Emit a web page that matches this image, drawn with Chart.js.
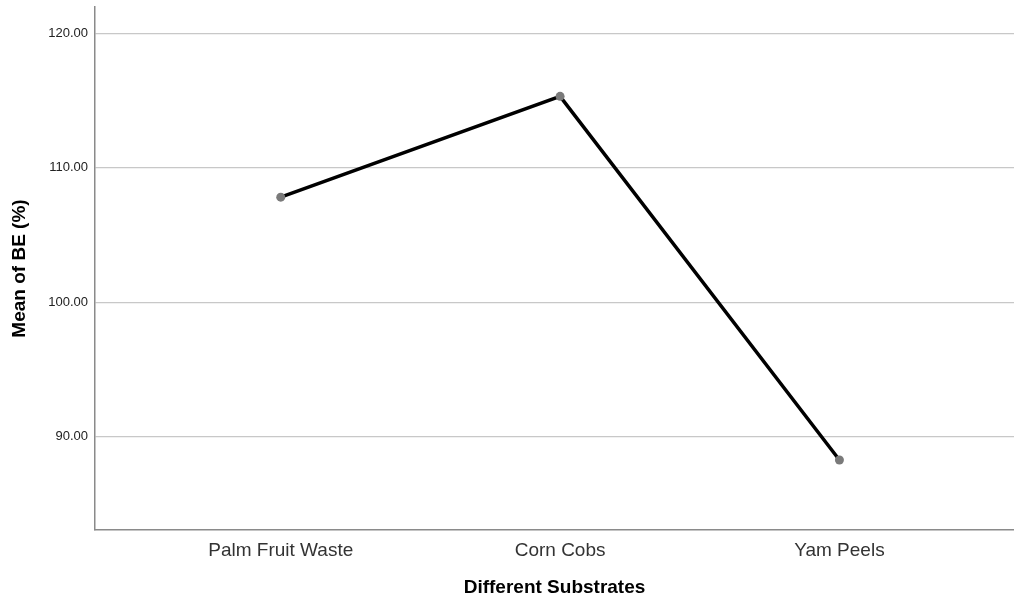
<!DOCTYPE html>
<html>
<head>
<meta charset="utf-8">
<script src="https://cdn.jsdelivr.net/npm/chart.js@4.4.1/dist/chart.umd.min.js"></script>
<style>
html,body{margin:0;padding:0;background:#fff;}
#wrap{width:1014px;height:601px;}
</style>
</head>
<body>
<div id="wrap"><canvas id="c" width="1014" height="601"></canvas></div>
<script>
const categories = ["Palm Fruit Waste", "Corn Cobs", "Yam Peels"];
const meanBE = [107.82, 115.32, 88.26];
const yTicks = [90, 100, 110, 120];
const xTitle = "Different Substrates";
const yTitle = "Mean of BE (%)";

const points = categories.map((c, i) => ({ x: i + 1, y: meanBE[i] }));

function zeroPad(s) { s.paddingTop = 0; s.paddingBottom = 0; s.paddingLeft = 0; s.paddingRight = 0; }

new Chart(document.getElementById('c'), {
  type: 'line',
  data: {
    datasets: [{
      data: points,
      borderColor: '#000000',
      borderWidth: 3.5,
      pointRadius: 4.5,
      pointHoverRadius: 4.5,
      pointBackgroundColor: '#7a7a7a',
      pointBorderColor: '#7a7a7a',
      pointBorderWidth: 0,
      tension: 0,
      fill: false
    }]
  },
  options: {
    responsive: false,
    devicePixelRatio: 1,
    animation: false,
    events: [],
    layout: { autoPadding: false, padding: { top: 7, right: 0, bottom: 0, left: 0 } },
    plugins: { legend: { display: false }, tooltip: { enabled: false } },
    scales: {
      x: {
        type: 'linear',
        min: 0.335,
        max: 3.625,
        afterBuildTicks: s => { s.ticks = categories.map((c, i) => ({ value: i + 1 })); },
        afterFit: s => { s.height = 71; zeroPad(s); },
        grid: { display: false, drawTicks: false },
        border: { display: true, color: '#8a8a8a', width: 1.5 },
        ticks: {
          padding: 9,
          color: '#333333',
          font: { family: 'Liberation Sans, Arial, sans-serif', size: 19 },
          maxRotation: 0,
          callback: v => categories[Math.round(v) - 1] || ''
        },
        title: {
          display: true,
          text: xTitle,
          color: '#000000',
          padding: { top: 0, bottom: 1.6 },
          font: { family: 'Liberation Sans, Arial, sans-serif', size: 19, weight: 'bold' }
        }
      },
      y: {
        type: 'linear',
        min: 83.05,
        max: 121.97,
        afterBuildTicks: s => { s.ticks = yTicks.map(v => ({ value: v })); },
        afterFit: s => { s.width = 95; zeroPad(s); },
        grid: { display: true, color: '#c8c8c8', lineWidth: 1.2, drawTicks: false },
        border: { display: true, color: '#8a8a8a', width: 1.5 },
        ticks: {
          padding: 7,
          color: '#222222',
          font: { family: 'Liberation Sans, Arial, sans-serif', size: 13 },
          callback: v => Number(v).toFixed(2)
        },
        title: {
          display: true,
          text: yTitle,
          color: '#000000',
          padding: { top: 8.6, bottom: 0 },
          font: { family: 'Liberation Sans, Arial, sans-serif', size: 19, weight: 'bold' }
        }
      }
    }
  }
});
</script>
</body>
</html>
